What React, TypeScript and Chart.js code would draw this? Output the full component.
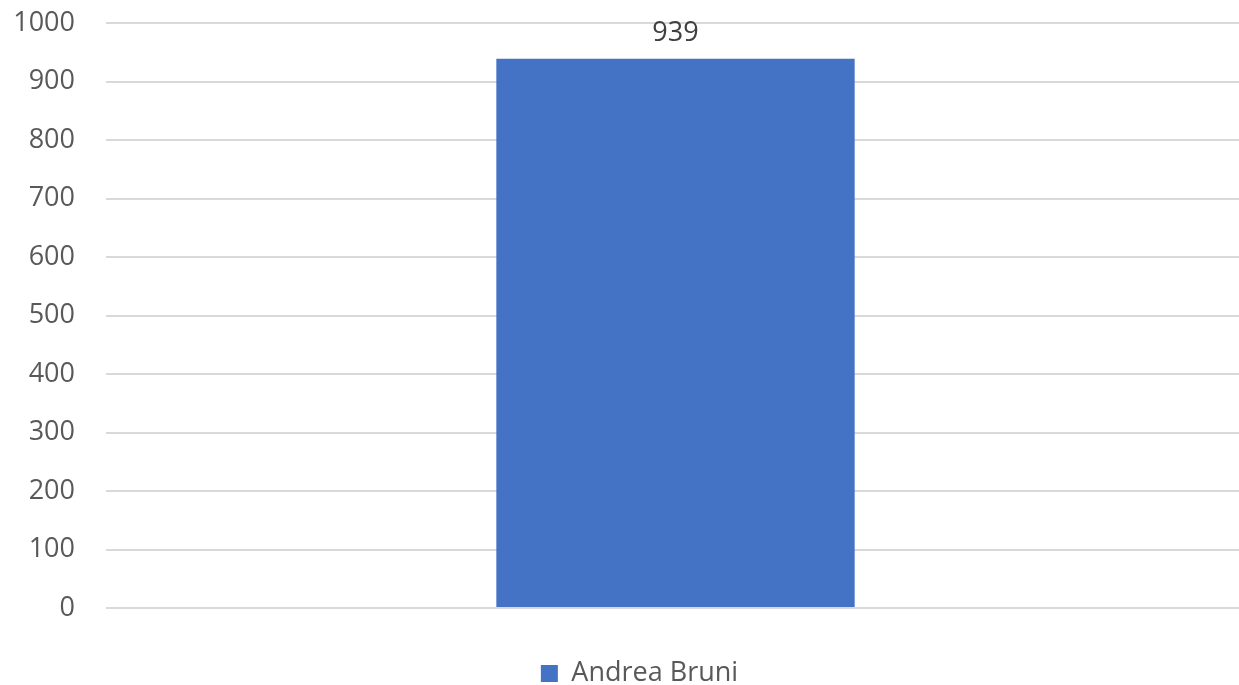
import React, { useEffect, useRef } from "react";
import { Chart, registerables } from "chart.js";

Chart.register(...registerables);

const categories = ["Andrea Bruni"];
const seriesLabel = "Andrea Bruni";
const seriesValues = [939];
const yTicks = [0, 100, 200, 300, 400, 500, 600, 700, 800, 900, 1000];

const FONT = "'Open Sans', 'Noto Sans', sans-serif";

const valueLabelPlugin = {
  id: "valueLabels",
  afterDatasetsDraw(chart: any) {
    const ctx = chart.ctx;
    chart.data.datasets.forEach((ds: any, i: number) => {
      const meta = chart.getDatasetMeta(i);
      meta.data.forEach((bar: any, j: number) => {
        ctx.save();
        ctx.font = `27px ${FONT}`;
        ctx.fillStyle = "#404040";
        ctx.textAlign = "center";
        ctx.textBaseline = "bottom";
        ctx.fillText(String(ds.data[j]), bar.x, bar.y - 12);
        ctx.restore();
      });
    });
  },
};

const legendShiftPlugin = {
  id: "legendShift",
  afterLayout(chart: any) {
    if (chart.legend) {
      chart.legend.left += 17;
      chart.legend.right += 17;
    }
  },
};

export default function App() {
  const ref = useRef<HTMLCanvasElement>(null);
  useEffect(() => {
    if (!ref.current) return;
    const chart = new Chart(ref.current, {
      type: "bar",
      data: {
        labels: categories,
        datasets: [
          {
            label: seriesLabel,
            data: seriesValues,
            backgroundColor: "#4472C4",
            categoryPercentage: 1,
            barPercentage: 0.3146,
          },
        ],
      },
      options: {
        animation: false,
        responsive: true,
        maintainAspectRatio: false,
        layout: { padding: { top: 0, left: 0, right: 0, bottom: 0 } },
        plugins: {
          legend: {
            position: "bottom",
            labels: {
              boxWidth: 17,
              boxHeight: 17,
              padding: 1,
              color: "#595959",
              font: { family: FONT, size: 27 },
            },
          },
          tooltip: { enabled: false },
        },
        scales: {
          x: {
            grid: { display: false },
            border: { display: false },
            ticks: { display: false },
            afterFit(scale: any) {
              scale.height = 51;
            },
          },
          y: {
            min: 0,
            max: 1000,
            afterBuildTicks(scale: any) {
              scale.ticks = yTicks.map((v) => ({ value: v }));
            },
            afterFit(scale: any) {
              scale.width = 106;
            },
            grid: { color: "#d9d9d9", lineWidth: 2, drawTicks: false },
            border: { display: false },
            ticks: {
              padding: 31,
              color: "#595959",
              font: { family: FONT, size: 27 },
              callback: (v: any) => String(v),
            },
          },
        },
      },
      plugins: [valueLabelPlugin, legendShiftPlugin],
    });
    return () => chart.destroy();
  }, []);

  return (
    <div style={{ position: "fixed", left: 0, top: 0, width: 1239, height: 685, overflow: "hidden", background: "#fff" }}>
      <div style={{ position: "absolute", left: 0, top: -24, width: 1245, height: 721 }}>
        <canvas ref={ref} />
      </div>
    </div>
  );
}
